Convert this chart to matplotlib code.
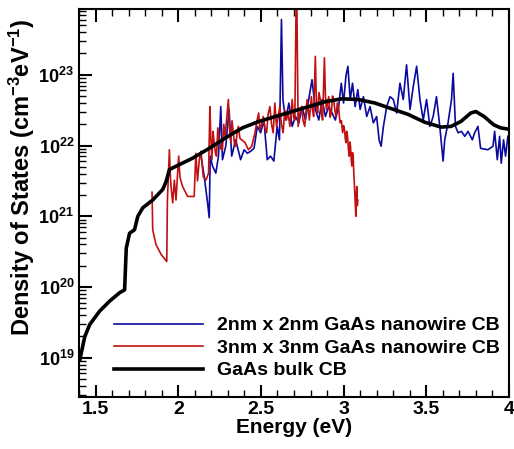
import numpy as np
import matplotlib
matplotlib.use('Agg')
import matplotlib.pyplot as plt
from matplotlib.ticker import LogLocator, MultipleLocator, NullFormatter

plt.rcParams['font.family'] = ['Liberation Sans', 'DejaVu Sans']
plt.rcParams['font.weight'] = 'bold'
plt.rcParams['mathtext.fontset'] = 'custom'
plt.rcParams['mathtext.rm'] = 'Liberation Sans:bold'
plt.rcParams['mathtext.bf'] = 'Liberation Sans:bold'
plt.rcParams['mathtext.default'] = 'bf'

# GaAs bulk CB (energy in eV, log10 of DOS)
bulk_e = [1.404, 1.434, 1.464, 1.524, 1.584, 1.645, 1.675, 1.685, 1.705, 1.735,
          1.755, 1.785, 1.845, 1.906, 1.926, 1.946, 2.006, 2.086, 2.187, 2.287,
          2.388, 2.488, 2.588, 2.689, 2.789, 2.890, 2.990, 3.090, 3.190, 3.290,
          3.390, 3.490, 3.590, 3.650, 3.710, 3.770, 3.800, 3.850, 3.910, 3.950, 4.000]
bulk_log = [18.97, 19.30, 19.47, 19.66, 19.80, 19.92, 19.96, 20.55, 20.76, 20.81,
            21.00, 21.12, 21.23, 21.38, 21.49, 21.66, 21.73, 21.82, 21.96, 22.11,
            22.25, 22.34, 22.41, 22.48, 22.55, 22.62, 22.66, 22.65, 22.60, 22.52,
            22.44, 22.33, 22.26, 22.27, 22.34, 22.46, 22.48, 22.41, 22.29, 22.25, 22.23]

# 2nm x 2nm nanowire CB
nw2_e = [2.137, 2.157, 2.177, 2.187, 2.193, 2.207, 2.227, 2.243, 2.257, 2.267,
         2.287, 2.307, 2.323, 2.347, 2.377, 2.398, 2.418, 2.438, 2.458, 2.478,
         2.498, 2.518, 2.538, 2.558, 2.578, 2.598, 2.612, 2.624, 2.633, 2.649,
         2.669, 2.689, 2.709, 2.729, 2.749, 2.769, 2.789, 2.809, 2.829, 2.850,
         2.870, 2.890, 2.910, 2.930, 2.950, 2.970, 2.986, 3.000, 3.014, 3.026,
         3.040, 3.054, 3.070, 3.086, 3.100, 3.120, 3.140, 3.160, 3.180, 3.200,
         3.215, 3.227, 3.241, 3.261, 3.281, 3.301, 3.321, 3.341, 3.361, 3.381,
         3.402, 3.422, 3.442, 3.462, 3.482, 3.502, 3.522, 3.542, 3.562, 3.582,
         3.602, 3.612, 3.632, 3.653, 3.663, 3.677, 3.693, 3.713, 3.733, 3.753,
         3.779, 3.793, 3.813, 3.829, 3.873, 3.904, 3.914, 3.930, 3.944, 3.954,
         3.968, 3.980, 3.994]
nw2_log = [21.85, 21.56, 21.19, 20.98, 21.85, 21.71, 21.61, 21.85, 22.55, 21.80,
           21.99, 22.51, 21.85, 22.08, 21.80, 21.94, 21.89, 21.92, 21.96, 22.27,
           22.18, 22.36, 21.80, 21.85, 21.78, 22.27, 22.08, 23.78, 22.65, 22.36,
           22.60, 22.27, 22.41, 22.32, 22.55, 22.36, 22.65, 22.93, 22.51, 22.36,
           22.65, 22.41, 22.55, 22.46, 22.36, 22.55, 22.88, 22.60, 22.98, 23.12,
           22.65, 22.88, 22.55, 22.79, 22.51, 22.69, 22.41, 22.55, 22.32, 22.41,
           22.08, 21.99, 22.27, 22.55, 22.69, 22.65, 22.46, 22.88, 22.65, 23.14,
           22.51, 22.84, 23.12, 22.65, 22.36, 22.65, 22.27, 22.41, 22.69, 22.27,
           21.78, 22.08, 22.32, 22.65, 23.02, 22.27, 22.18, 22.20, 22.13, 22.20,
           22.08, 22.18, 22.27, 21.96, 21.94, 21.99, 22.20, 21.80, 22.13, 21.75,
           22.08, 21.85, 22.13]

# 3nm x 3nm nanowire CB
nw3_e = [1.841, 1.845, 1.865, 1.896, 1.930, 1.934, 1.946, 1.951, 1.956, 1.966,
         1.976, 1.986, 2.002, 2.010, 2.026, 2.056, 2.096, 2.106, 2.116, 2.127,
         2.137, 2.151, 2.167, 2.183, 2.191, 2.197, 2.203, 2.210, 2.217, 2.224,
         2.231, 2.239, 2.247, 2.257, 2.267, 2.275, 2.283, 2.303, 2.310, 2.317,
         2.325, 2.333, 2.341, 2.349, 2.356, 2.363, 2.373, 2.383, 2.404, 2.424,
         2.444, 2.464, 2.476, 2.486, 2.494, 2.504, 2.514, 2.524, 2.534, 2.544,
         2.554, 2.564, 2.574, 2.584, 2.594, 2.604, 2.614, 2.624, 2.634, 2.644,
         2.654, 2.665, 2.675, 2.689, 2.697, 2.705, 2.715, 2.725, 2.735, 2.745,
         2.755, 2.765, 2.779, 2.793, 2.805, 2.812, 2.819, 2.829, 2.836, 2.843,
         2.851, 2.859, 2.866, 2.873, 2.884, 2.890, 2.896, 2.903, 2.910, 2.918,
         2.926, 2.933, 2.940, 2.947, 2.954, 2.962, 2.970, 2.975, 2.980, 2.987,
         2.994, 3.000, 3.006, 3.010, 3.014, 3.019, 3.024, 3.029, 3.034, 3.038,
         3.042, 3.046, 3.050, 3.054, 3.058, 3.062, 3.066, 3.070, 3.074, 3.077,
         3.080, 3.083, 3.086]
nw3_log = [21.34, 20.81, 20.60, 20.46, 20.36, 21.23, 21.94, 21.60, 21.42, 21.19,
           21.51, 21.23, 21.85, 21.55, 21.42, 21.28, 21.28, 21.89, 21.50, 21.80,
           21.92, 21.56, 21.51, 21.61, 22.55, 22.10, 21.80, 22.20, 22.04, 21.90,
           21.85, 22.25, 22.08, 21.95, 21.94, 22.30, 22.13, 22.65, 22.25, 22.04,
           22.35, 22.18, 22.00, 21.99, 22.20, 22.27, 22.10, 22.08, 22.04, 21.94,
           21.99, 22.18, 22.35, 22.46, 22.22, 22.30, 22.41, 22.25, 22.18, 22.45,
           22.55, 22.30, 22.18, 22.60, 22.27, 22.40, 22.55, 22.30, 22.18, 22.50,
           22.36, 22.45, 22.27, 22.65, 22.40, 22.36, 24.50, 22.27, 22.45, 22.55,
           22.35, 22.27, 22.65, 22.36, 22.69, 22.50, 22.41, 23.26, 22.55, 22.46,
           22.75, 22.65, 22.45, 22.36, 23.24, 22.70, 22.51, 22.60, 22.69, 22.40,
           22.46, 22.70, 22.65, 22.50, 22.41, 22.60, 22.55, 22.40, 22.32, 22.35,
           22.18, 22.28, 22.22, 22.10, 22.04, 22.20, 22.13, 21.95, 21.85, 22.05,
           21.99, 21.80, 21.71, 21.90, 21.85, 21.60, 21.42, 21.20, 21.00, 21.30,
           21.42, 21.15, 21.23]

fig = plt.figure(figsize=(5.14, 4.49), dpi=100)
ax = fig.add_axes([0.154, 0.116, 0.836, 0.864])

ax.plot(nw2_e, np.power(10.0, nw2_log), color='#0a0aa0', lw=1.2,
        label='2nm x 2nm GaAs nanowire CB')
ax.plot(nw3_e, np.power(10.0, nw3_log), color='#c01010', lw=1.2,
        label='3nm x 3nm GaAs nanowire CB')
ax.plot(bulk_e, np.power(10.0, bulk_log), color='black', lw=2.6,
        label='GaAs bulk CB')

ax.set_yscale('log')
ax.set_xlim(1.4, 4.0)
ax.set_ylim(2.8e18, 8.5e23)

ax.xaxis.set_minor_locator(MultipleLocator(0.1))
ax.set_xticks([1.5, 2, 2.5, 3, 3.5, 4])
ax.set_xticklabels(['1.5', '2', '2.5', '3', '3.5', '4'])
ax.yaxis.set_minor_locator(LogLocator(base=10, subs=np.arange(2, 10)))
ax.yaxis.set_minor_formatter(NullFormatter())
yt = [1e19, 1e20, 1e21, 1e22, 1e23]
ax.set_yticks(yt)
ax.set_yticklabels([r'$10^{%d}$' % int(np.log10(v)) for v in yt])

ax.tick_params(axis='x', which='both', direction='in', top=True, bottom=True,
               labelsize=14, pad=3)
ax.tick_params(axis='y', which='both', direction='in', left=True, right=False,
               labelsize=13)
ax.tick_params(which='major', length=9, width=1.5)
ax.tick_params(which='minor', length=5, width=1)
for s in ax.spines.values():
    s.set_linewidth(1.5)

ax.set_xlabel('Energy (eV)', fontsize=15, fontweight='bold', labelpad=0)
ax.set_ylabel('Density of States (cm$^{-3}$eV$^{-1}$)', fontsize=17,
              fontweight='bold')
ax.yaxis.set_label_coords(-0.097, 0.565)

ax.legend(loc='lower left', bbox_to_anchor=(0.04, 0.0), frameon=False,
          handlelength=4.6, handletextpad=0.7, labelspacing=0.25,
          prop={'weight': 'bold', 'size': 14})

fig.savefig('out.png', dpi=100)
